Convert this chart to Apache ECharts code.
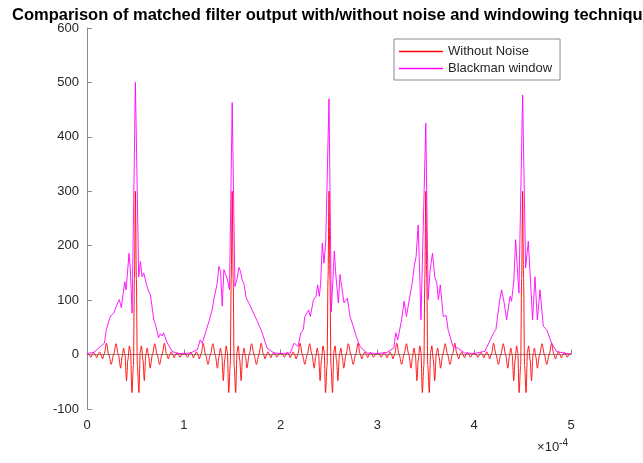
<!DOCTYPE html>
<html>
<head>
<meta charset="utf-8">
<script src="https://cdn.jsdelivr.net/npm/echarts@6/dist/echarts.min.js"></script>
<style>
html,body{margin:0;padding:0;background:#fff;}
#main{width:643px;height:463px;}
</style>
</head>
<body>
<div id="main"></div>
<script>
// peak positions (x in units of 1e-4 s)
var peakCenters=[0.5,1.5,2.5,3.5,4.5];
var xTicks=[0,1,2,3,4,5];

// red trace, one period read around a peak (same for every period)
var redOffsets=[-0.5,-0.48,-0.46,-0.445,-0.43,-0.415,-0.4,-0.385,-0.37,-0.355,-0.34,-0.32,-0.3,-0.275,-0.25,-0.225,-0.2,-0.176,-0.152,-0.138,-0.122,-0.108,-0.092,-0.078,-0.062,-0.05,-0.036,-0.02,-0.01,
	0,0.01,0.02,0.036,0.05,0.062,0.078,0.092,0.108,0.122,0.138,0.152,0.176,0.2,0.225,0.25,0.275,0.3,0.32,0.34,0.355,0.37,0.385,0.4,0.415,0.43,0.445,0.46,0.48,0.5];
var redValues=[2,0,-5,0,4,0,-6,0,5,0,-8,2,21,0,-18,0,20,0,-25,-5,12,0,-48,-10,16,5,-70,-20,140,
	300,140,-20,-70,5,16,-10,-48,0,12,-5,-25,0,20,0,-18,0,21,2,-8,0,5,0,-6,0,4,0,-5,0,2];

// magenta trace, [offset from peak, value] for each period
var blackman1=[[-0.5,2],[-0.43,4],[-0.36,15],[-0.32,21],[-0.3,46],[-0.265,67],[-0.245,73],[-0.224,76],[-0.207,84],[-0.183,95],[-0.166,101],[-0.145,86],[-0.128,110],[-0.11,134],[-0.097,119],[-0.083,147],[-0.066,186],[-0.052,156],[-0.034,76],
	[0,500],[0.034,143],[0.052,171],[0.069,143],[0.086,150],[0.103,147],[0.12,125],[0.138,116],[0.155,110],[0.19,64],[0.207,55],[0.224,58],[0.24,31],[0.258,38],[0.276,34],[0.29,40],[0.33,21],[0.38,6],[0.43,2],[0.5,2]];
var blackman2=[[-0.5,2],[-0.43,3],[-0.36,9],[-0.33,27],[-0.31,21],[-0.276,40],[-0.24,61],[-0.207,82],[-0.19,101],[-0.172,104],[-0.155,131],[-0.138,162],[-0.12,153],[-0.103,89],[-0.086,156],[-0.069,159],[-0.052,140],[-0.028,119],
	[0,463],[0.028,125],[0.052,140],[0.069,160],[0.086,153],[0.103,137],[0.12,131],[0.145,104],[0.172,95],[0.19,98],[0.22,76],[0.26,61],[0.31,40],[0.36,12],[0.43,3],[0.5,2]];
var blackman3=[[-0.5,2],[-0.4,3],[-0.36,21],[-0.32,15],[-0.29,40],[-0.265,46],[-0.25,70],[-0.21,82],[-0.193,70],[-0.16,101],[-0.134,107],[-0.117,128],[-0.1,107],[-0.086,131],[-0.069,205],[-0.052,168],[-0.034,205],
	[0,470],[0.024,79],[0.055,190],[0.072,143],[0.097,95],[0.114,147],[0.131,125],[0.155,95],[0.19,104],[0.217,70],[0.25,52],[0.28,34],[0.32,15],[0.39,3],[0.5,2]];
var blackman4=[[-0.5,2],[-0.4,4],[-0.33,12],[-0.31,40],[-0.29,27],[-0.25,64],[-0.224,98],[-0.2,70],[-0.165,107],[-0.138,134],[-0.12,162],[-0.1,180],[-0.079,238],[-0.066,168],[-0.05,64],
	[0,425],[0.024,101],[0.045,156],[0.069,186],[0.093,143],[0.114,131],[0.13,101],[0.15,128],[0.18,70],[0.21,72],[0.23,46],[0.28,15],[0.33,12],[0.4,3],[0.5,2]];
var blackman5=[[-0.5,2],[-0.39,6],[-0.35,21],[-0.3,40],[-0.276,46],[-0.24,95],[-0.217,119],[-0.19,95],[-0.165,64],[-0.13,107],[-0.114,98],[-0.09,137],[-0.072,211],[-0.055,162],[-0.038,113],
	[0,477],[0.031,159],[0.059,208],[0.083,131],[0.103,64],[0.128,143],[0.152,64],[0.18,119],[0.214,52],[0.248,46],[0.3,21],[0.35,6],[0.42,3],[0.5,1]];
var blackmanPeriods=[blackman1,blackman2,blackman3,blackman4,blackman5];

var seriesNames=['Without Noise','Blackman window'];
var seriesColors=['#ff0000','#ff00ff'];
var titleText='Comparison of matched filter output with/without noise and windowing techniques';

//把各周期拼成一条曲线
function buildRed(){
	var d=[];
	for(var i=0;i<peakCenters.length;i++){
		for(var j=0;j<redOffsets.length;j++){
			d.push([peakCenters[i]+redOffsets[j],redValues[j]]);
		}
	}
	return d;
}

function buildBlackman(){
	var d=[];
	for(var i=0;i<peakCenters.length;i++){
		var p=blackmanPeriods[i];
		for(var j=0;j<p.length;j++){
			d.push([peakCenters[i]+p[j][0],p[j][1]]);
		}
	}
	return d;
}

var axisColor='#8a8a8a';
var textColor='#262626';
var font='"Liberation Sans", Arial, Helvetica, sans-serif';

var option={
	animation:false,
	title:{
		text:titleText,
		left:7,
		top:2,
		textStyle:{fontSize:16.5,fontWeight:'bold',color:'#000',fontFamily:font}
	},
	legend:{
		data:[
			{name:seriesNames[0],itemStyle:{color:seriesColors[0],borderWidth:0}},
			{name:seriesNames[1],itemStyle:{color:seriesColors[1],borderWidth:0}}
		],
		orient:'vertical',
		left:394,
		top:39,
		icon:'rect',
		itemWidth:44,
		itemHeight:1.5,
		itemGap:2,
		padding:[5,8,4,5],
		borderColor:'#8a8a8a',
		borderWidth:1,
		borderRadius:0,
		backgroundColor:'#fff',
		textStyle:{fontSize:13,color:textColor,fontFamily:font,lineHeight:15}
	},
	grid:{left:87,right:72,top:28,bottom:54},
	xAxis:{
		type:'value',
		min:0,max:5,interval:1,
		axisLine:{lineStyle:{color:axisColor,width:1}},
		axisTick:{inside:true,length:5,lineStyle:{color:axisColor}},
		axisLabel:{fontSize:13,color:textColor,fontFamily:font,margin:10},
		splitLine:{show:false}
	},
	yAxis:{
		type:'value',
		min:-100,max:600,interval:100,
		axisLine:{show:true,lineStyle:{color:axisColor,width:1}},
		axisTick:{show:true,inside:true,length:5,lineStyle:{color:axisColor}},
		axisLabel:{fontSize:13,color:textColor,fontFamily:font,margin:8},
		splitLine:{show:false}
	},
	graphic:[{
		type:'text',
		right:75,
		top:438,
		style:{
			text:'×10{sup|-4}',
			fill:textColor,
			font:'13px '+font,
			rich:{sup:{fontSize:10,verticalAlign:'top',padding:[0,0,8,0],fill:textColor}}
		}
	}],
	series:[
		{
			name:seriesNames[0],
			type:'line',
			symbol:'none',
			smooth:0.3,
			smoothMonotone:'x',
			data:buildRed(),
			lineStyle:{color:seriesColors[0],width:0.9},
			itemStyle:{color:seriesColors[0]}
		},
		{
			name:seriesNames[1],
			type:'line',
			symbol:'none',
			data:buildBlackman(),
			lineStyle:{color:seriesColors[1],width:0.9},
			itemStyle:{color:seriesColors[1]}
		}
	]
};

var myChart=echarts.init(document.getElementById('main'));
myChart.setOption(option);
</script>
</body>
</html>
